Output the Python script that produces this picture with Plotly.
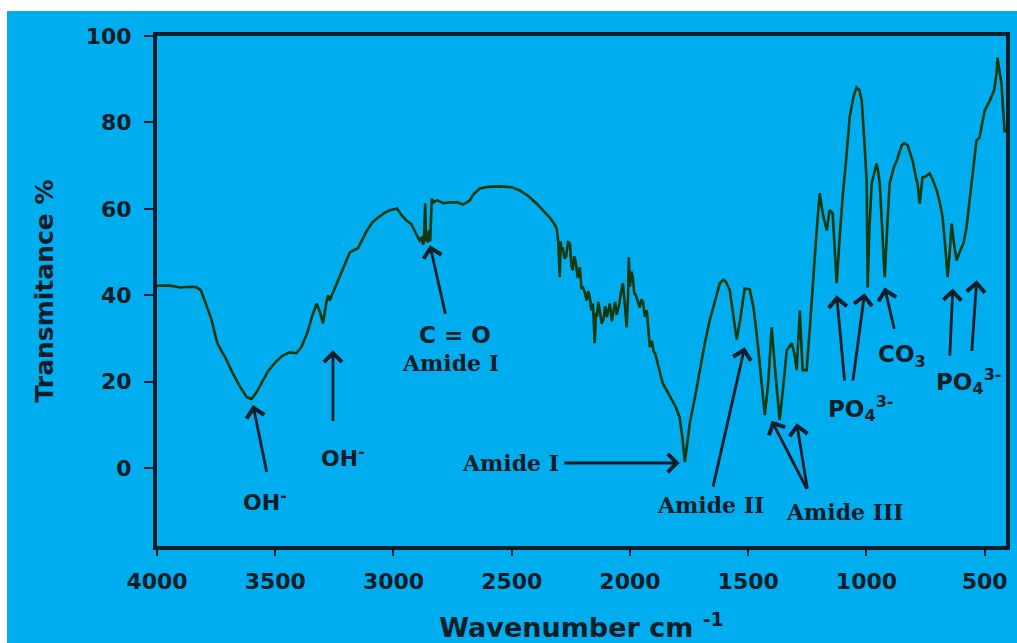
import plotly.graph_objects as go

# ---- spectrum data (wavenumber cm^-1, transmittance %) ----
region_oh = [(4000, 42.2), (3950, 42.3), (3900, 41.8), (3860, 42.0), (3835, 41.9), (3815, 41.2),
             (3790, 37.5), (3770, 34.5), (3745, 28.9), (3710, 25.5), (3680, 22.0), (3650, 19.0),
             (3620, 16.4), (3600, 16.0), (3580, 17.5), (3555, 20.0), (3530, 22.5), (3500, 24.5),
             (3470, 26.0), (3440, 26.8), (3410, 26.6), (3390, 28.0), (3365, 31.2), (3345, 35.0),
             (3325, 38.1), (3310, 36.0), (3298, 33.5), (3285, 38.0), (3277, 40.0), (3270, 38.8),
             (3250, 41.5), (3227, 44.2), (3205, 47.5), (3184, 50.0), (3150, 50.9), (3130, 53.0),
             (3112, 55.0), (3090, 56.8), (3070, 57.8), (3040, 59.0), (3015, 59.7), (2985, 60.1),
             (2965, 58.5), (2945, 57.3), (2925, 56.5), (2905, 54.3), (2890, 52.7)]
region_ch = [(2880, 53.5), (2876, 51.8), (2872, 52.0), (2866, 61.3), (2862, 52.5), (2858, 53.0),
             (2855, 52.2), (2850, 55.0), (2845, 52.5), (2841, 57.0), (2838, 62.4), (2830, 61.5),
             (2815, 62.0), (2790, 61.3), (2762, 61.5), (2730, 61.5), (2707, 61.0), (2690, 61.5),
             (2677, 62.0), (2660, 63.5), (2635, 64.7), (2600, 65.1), (2550, 65.2), (2500, 65.0),
             (2466, 64.3), (2430, 63.0), (2394, 61.2), (2365, 59.5), (2339, 58.0), (2320, 56.5),
             (2310, 55.5)]
region_noise = [(2303, 52.0), (2297, 44.2), (2293, 52.5), (2290, 50.5), (2284, 51.1), (2277, 48.5),
                (2270, 49.0), (2262, 52.3), (2254, 52.0), (2248, 47.0), (2242, 45.8), (2236, 49.0),
                (2230, 48.0), (2221, 44.0), (2212, 46.5), (2205, 41.5), (2200, 42.0), (2190, 40.5),
                (2183, 38.8), (2176, 41.0), (2170, 39.5), (2163, 36.5), (2157, 38.1), (2152, 33.0),
                (2149, 28.9), (2144, 36.0), (2140, 35.0), (2134, 38.5), (2128, 36.5), (2120, 33.5),
                (2112, 34.5), (2105, 37.5), (2098, 35.0), (2091, 36.5), (2085, 38.1), (2077, 34.0),
                (2070, 36.0), (2063, 38.5), (2056, 35.5), (2050, 37.0), (2045, 38.0), (2037, 41.0),
                (2030, 42.8), (2022, 38.0), (2014, 32.6), (2008, 40.0), (2005, 48.8), (2000, 42.0),
                (1994, 45.5), (1988, 44.2), (1982, 40.5), (1975, 40.0), (1967, 38.5), (1959, 37.2),
                (1952, 39.0), (1945, 38.5), (1937, 35.0), (1929, 36.5), (1922, 32.0), (1916, 28.0),
                (1908, 29.5), (1900, 27.0), (1893, 26.5), (1887, 25.0), (1881, 23.5), (1875, 22.0),
                (1868, 21.0), (1861, 19.6), (1850, 18.5), (1840, 17.5), (1830, 16.8), (1819, 15.7),
                (1805, 14.0), (1790, 11.8), (1778, 7.0), (1768, 1.4)]
region_amide = [(1757, 5.5), (1747, 10.4), (1725, 16.5), (1705, 22.7), (1685, 28.5), (1663, 34.2),
                (1640, 39.0), (1620, 42.8), (1605, 43.6), (1595, 43.2), (1578, 41.2), (1565, 36.0),
                (1549, 29.8), (1535, 34.0), (1515, 41.6), (1494, 41.4), (1477, 37.0), (1460, 28.9),
                (1445, 20.0), (1430, 12.3), (1415, 20.0), (1401, 32.6), (1385, 22.0), (1367, 11.1),
                (1350, 20.0), (1337, 27.3), (1316, 28.9), (1303, 26.0), (1295, 22.7), (1282, 36.5),
                (1270, 22.7), (1253, 22.7), (1240, 32.0), (1227, 42.8), (1212, 54.0)]
region_phosphate = [(1198, 63.6), (1185, 59.0), (1168, 55.0), (1156, 59.7), (1143, 59.0), (1126, 42.8),
                    (1115, 52.0), (1101, 62.7), (1085, 72.0), (1071, 81.2), (1055, 86.0), (1042, 88.1),
                    (1030, 87.5), (1020, 85.0), (1008, 75.0), (999, 65.9), (995, 41.8), (988, 55.0),
                    (978, 65.9), (965, 69.0), (957, 70.5), (950, 68.5), (944, 65.9), (935, 57.0),
                    (923, 44.2), (912, 56.0), (902, 65.9), (885, 69.5), (872, 71.2), (851, 74.7),
                    (840, 75.2), (826, 74.7), (815, 73.0), (805, 71.2), (790, 67.0), (784, 65.9),
                    (775, 61.2), (763, 67.3), (750, 67.5), (733, 68.2), (718, 66.5), (703, 64.3),
                    (690, 61.5), (678, 58.0), (665, 50.0), (657, 44.2), (648, 50.0), (640, 56.6),
                    (630, 52.0), (619, 48.1), (606, 50.0), (590, 52.0), (577, 55.7), (551, 67.3),
                    (535, 75.8), (522, 76.5), (500, 82.8), (479, 85.0), (460, 87.5), (450, 91.3),
                    (446, 95.0), (438, 92.0), (429, 89.0), (424, 84.4), (416, 78.0), (410, 78.0)]

spectrum = region_oh + region_ch + region_noise + region_amide + region_phosphate
wavenumber = [p[0] for p in spectrum]
transmittance = [p[1] for p in spectrum]

x_ticks = [4000, 3500, 3000, 2500, 2000, 1500, 1000, 500]
y_ticks = [0, 20, 40, 60, 80, 100]

# band labels: (text, x, y, font family, size)
SANS = "DejaVu Sans"
SERIF = "DejaVu Serif"
band_labels = [
    ("OH<sup>-</sup>", 3545, -7.5, SANS, 22),
    ("OH<sup>-</sup>", 3214, 2.5, SANS, 22),
    ("C = O", 2740, 30.8, SANS, 23),
    ("Amide I", 2757, 24.3, SERIF, 22),
    ("Amide I", 2505, 1.2, SERIF, 22),
    ("Amide II", 1658, -8.6, SERIF, 22),
    ("Amide III", 1092, -10.2, SERIF, 22),
    ("PO<sub>4</sub><sup>3-</sup>", 1025, 13.9, SANS, 23),
    ("CO<sub>3</sub>", 851, 26.0, SANS, 23),
    ("PO<sub>4</sub><sup>3-</sup>", 568, 20.0, SANS, 23),
]
# arrows: (head x, head y, tail x, tail y)
band_arrows = [
    (3594, 14.6, 3535, -1.2),
    (3256, 27.3, 3256, 10.6),
    (2846, 51.6, 2779, 35.4),
    (1790, 1.2, 2284, 1.2),
    (1515, 28.0, 1650, -4.6),
    (1401, 11.0, 1249, -5.1),
    (1295, 10.4, 1249, -5.1),
    (1126, 40.0, 1092, 19.9),
    (1008, 40.5, 1058, 19.9),
    (923, 41.8, 881, 31.9),
    (635, 41.6, 648, 25.7),
    (534, 43.5, 555, 26.8),
]

INK = "#0e1d28"
CYAN = "#00aeef"

fig = go.Figure()
fig.add_trace(go.Scatter(x=wavenumber, y=transmittance, mode="lines",
                         line=dict(color="#15380c", width=2.6), showlegend=False,
                         hoverinfo="skip"))

annotations = []
for text, x, y, fam, size in band_labels:
    annotations.append(dict(x=x, y=y, xref="x", yref="y", text="<b>%s</b>" % text, showarrow=False,
                            font=dict(family=fam, size=size, color=INK)))
for hx, hy, tx, ty in band_arrows:
    annotations.append(dict(x=hx, y=hy, ax=tx, ay=ty, xref="x", yref="y", axref="x", ayref="y",
                            text="", showarrow=True, arrowhead=4, arrowsize=1.25, arrowwidth=2.8,
                            arrowcolor=INK, standoff=0, startstandoff=0))

fig.update_layout(
    width=1017, height=643,
    margin=dict(l=157, r=11, t=36, b=97, autoexpand=False),
    paper_bgcolor=CYAN,
    plot_bgcolor=CYAN,
    shapes=[
        # white border strips of the original image (top and left)
        dict(type="rect", xref="paper", yref="paper", layer="below",
             x0=-157 / 849, x1=(1017 - 157) / 849, y0=(546 - 11) / 510, y1=546 / 510,
             fillcolor="white", line=dict(width=0)),
        dict(type="rect", xref="paper", yref="paper", layer="below",
             x0=-157 / 849, x1=(7 - 157) / 849, y0=(546 - 643) / 510, y1=546 / 510,
             fillcolor="white", line=dict(width=0)),
    ],
    annotations=annotations,
    font=dict(family=SANS, color=INK),
)
fig.update_xaxes(range=[4000, 410], tickvals=x_ticks, ticktext=[str(v) for v in x_ticks],
                 automargin=False,
                 showgrid=False, zeroline=False, showline=True, mirror=True,
                 linecolor=INK, linewidth=4, ticks="outside", ticklen=6, tickwidth=2,
                 tickcolor=INK, ticklabelstandoff=7,
                 tickfont=dict(family=SANS, size=22, color=INK, weight="bold"),
                 title=dict(text="<b>Wavenumber cm <sup>-1</sup></b>", standoff=26,
                            font=dict(family=SANS, size=27, color=INK)))
fig.update_yaxes(range=[-18, 100], tickvals=y_ticks, ticktext=[str(v) for v in y_ticks],
                 automargin=False,
                 showgrid=False, zeroline=False, showline=True, mirror=True,
                 linecolor=INK, linewidth=4, ticks="outside", ticklen=9, tickwidth=2,
                 tickcolor=INK, ticklabelstandoff=8,
                 tickfont=dict(family=SANS, size=22, color=INK, weight="bold"),
                 title=dict(text="<b>Transmitance %</b>", standoff=26,
                            font=dict(family=SANS, size=25, color=INK)))

fig.write_html("out.html")
